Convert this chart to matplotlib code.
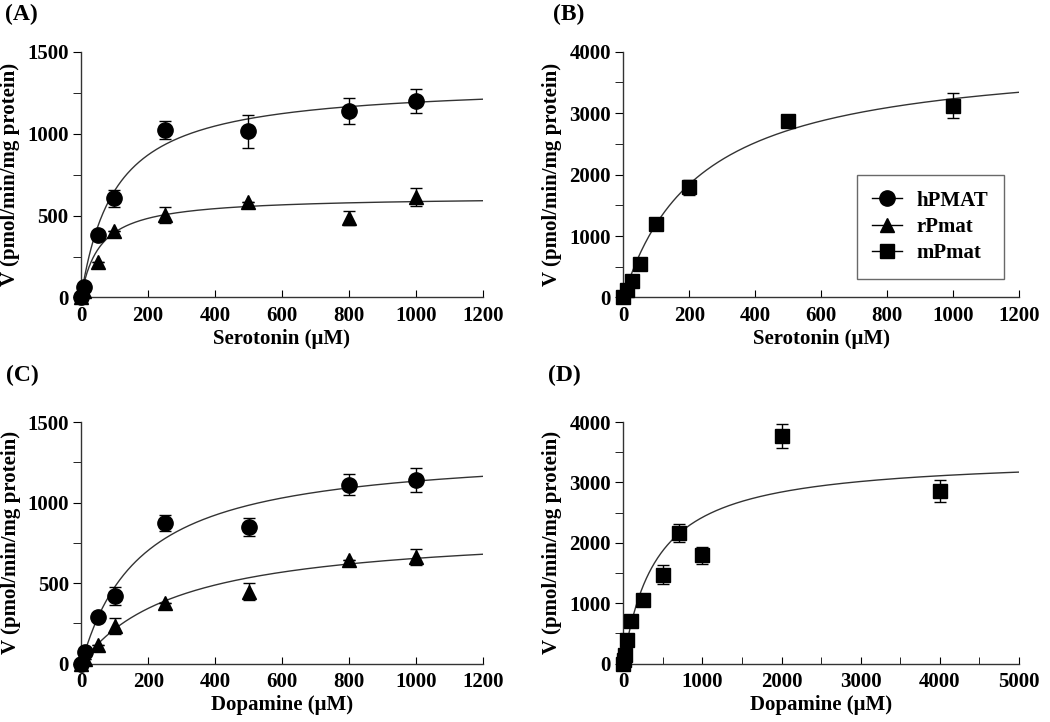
import matplotlib
matplotlib.use("Agg")
import matplotlib.pyplot as plt
import numpy as np

plt.rcParams['font.family'] = ['Liberation Serif', 'DejaVu Serif']
plt.rcParams['font.weight'] = 'bold'

# ---- data ----
# (A) serotonin, hPMAT / rPmat
a_x = [0, 10, 50, 100, 250, 500, 800, 1000]
a_h = [0, 65, 380, 605, 1020, 1015, 1140, 1200]
a_h_err = [0, 0, 0, 50, 55, 100, 80, 75]
a_r = [0, 40, 215, 405, 505, 585, 485, 612]
a_r_err = [0, 0, 0, 0, 50, 0, 45, 55]

# (B) serotonin, mPmat
b_x = [0, 10, 25, 50, 100, 200, 500, 1000]
b_m = [0, 115, 260, 550, 1190, 1790, 2880, 3120]
b_m_err = [0, 0, 0, 0, 0, 120, 80, 200]

# (C) dopamine, hPMAT / rPmat
c_x = [0, 10, 50, 100, 250, 500, 800, 1000]
c_h = [0, 70, 290, 420, 874, 850, 1111, 1142]
c_h_err = [0, 0, 0, 55, 50, 55, 65, 75]
c_r = [0, 30, 112, 234, 376, 447, 640, 662]
c_r_err = [0, 0, 0, 50, 0, 55, 0, 50]

# (D) dopamine, mPmat
d_x = [0, 10, 25, 50, 100, 250, 500, 700, 1000, 2000, 4000]
d_m = [0, 60, 142, 387, 697, 1050, 1474, 2155, 1791, 3771, 2857]
d_m_err = [0, 0, 0, 0, 0, 0, 150, 150, 140, 200, 190]

# Michaelis-Menten fits drawn in the figure: (Vmax, Km)
fit_a_h = (1313, 102)
fit_a_r = (618, 56)
fit_b_m = (3988, 233)
fit_c_h = (1337, 180)
fit_c_r = (844, 292)
fit_d_m = (3436, 419)

FS = 15


def mm(s, p):
    vmax, km = p
    return vmax * s / (km + s)


def series(ax, x, y, err, marker, ms, label=None):
    ax.errorbar(x, y, yerr=err, fmt=marker, color='black', ms=ms,
                ecolor='black', elinewidth=1, capsize=4, capthick=1,
                clip_on=False, zorder=3, label=label)


def style(ax, xmax, xstep, xlabstep, ymax, ystep, ylabstep, xlabel):
    ax.set_xlim(0, xmax)
    ax.set_ylim(0, ymax)
    for s in ['top', 'right']:
        ax.spines[s].set_visible(False)
    for s in ['left', 'bottom']:
        ax.spines[s].set_linewidth(1.0)
        ax.spines[s].set_color('#333333')
    ax.set_xticks(np.arange(0, xmax + 1, xlabstep))
    ax.set_xticks(np.arange(0, xmax + 1, xstep), minor=True)
    ax.set_yticks(np.arange(0, ymax + 1, ylabstep))
    ax.set_yticks(np.arange(0, ymax + 1, ystep), minor=True)
    ax.tick_params(axis='x', which='both', direction='in', length=5, pad=6,
                   labelsize=FS)
    ax.tick_params(axis='y', which='both', direction='out', length=6, pad=3,
                   labelsize=FS)
    for lab in ax.get_xticklabels() + ax.get_yticklabels():
        lab.set_fontweight('bold')
    ax.set_xlabel(xlabel, fontsize=FS, fontweight='bold', labelpad=2)
    ax.set_ylabel('V (pmol/min/mg protein)', fontsize=FS, fontweight='bold',
                  labelpad=5)


fig = plt.figure(figsize=(10.5, 7.22), dpi=100)
axA = fig.add_axes([0.0771, 0.588, 0.3829, 0.3404])
axB = fig.add_axes([0.5936, 0.588, 0.3769, 0.3404])
axC = fig.add_axes([0.0776, 0.081, 0.3824, 0.3345])
axD = fig.add_axes([0.5936, 0.081, 0.3769, 0.3345])

curve_kw = dict(color='#333333', lw=1.0, zorder=2)

# (A)
s = np.linspace(0, 1200, 400)
axA.plot(s, mm(s, fit_a_h), **curve_kw)
axA.plot(s, mm(s, fit_a_r), **curve_kw)
series(axA, a_x, a_r, a_r_err, '^', 10)
series(axA, a_x, a_h, a_h_err, 'o', 11)
style(axA, 1200, 200, 200, 1500, 250, 500, 'Serotonin (\u03bcM)')

# (B)
axB.plot(s, mm(s, fit_b_m), **curve_kw)
series(axB, b_x, b_m, b_m_err, 's', 10)
style(axB, 1200, 200, 200, 4000, 500, 1000, 'Serotonin (\u03bcM)')
h1, = axB.plot([], [], '-o', color='black', ms=11, lw=1)
h2, = axB.plot([], [], '-^', color='black', ms=10, lw=1)
h3, = axB.plot([], [], '-s', color='black', ms=10, lw=1)
leg = axB.legend([h1, h2, h3], ['hPMAT', 'rPmat', 'mPmat'],
                 loc='upper left', bbox_to_anchor=(0.59, 0.498),
                 frameon=True, fancybox=False, edgecolor='#444444',
                 prop={'family': 'Liberation Serif', 'weight': 'bold',
                       'size': FS},
                 handlelength=1.4, borderpad=0.75, labelspacing=0.3,
                 handletextpad=0.7, borderaxespad=0)
leg.get_frame().set_linewidth(1.0)

# (C)
axC.plot(s, mm(s, fit_c_h), **curve_kw)
axC.plot(s, mm(s, fit_c_r), **curve_kw)
series(axC, c_x, c_r, c_r_err, '^', 10)
series(axC, c_x, c_h, c_h_err, 'o', 11)
style(axC, 1200, 200, 200, 1500, 250, 500, 'Dopamine (\u03bcM)')

# (D)
s2 = np.linspace(0, 5000, 600)
axD.plot(s2, mm(s2, fit_d_m), **curve_kw)
series(axD, d_x, d_m, d_m_err, 's', 10)
style(axD, 5000, 500, 1000, 4000, 500, 1000, 'Dopamine (\u03bcM)')

# panel letters
fig.text(0.005, 0.994, '(A)', fontsize=17, fontweight='bold', va='top')
fig.text(0.527, 0.994, '(B)', fontsize=17, fontweight='bold', va='top')
fig.text(0.006, 0.495, '(C)', fontsize=17, fontweight='bold', va='top')
fig.text(0.522, 0.495, '(D)', fontsize=17, fontweight='bold', va='top')

fig.savefig('out.png', dpi=100)
